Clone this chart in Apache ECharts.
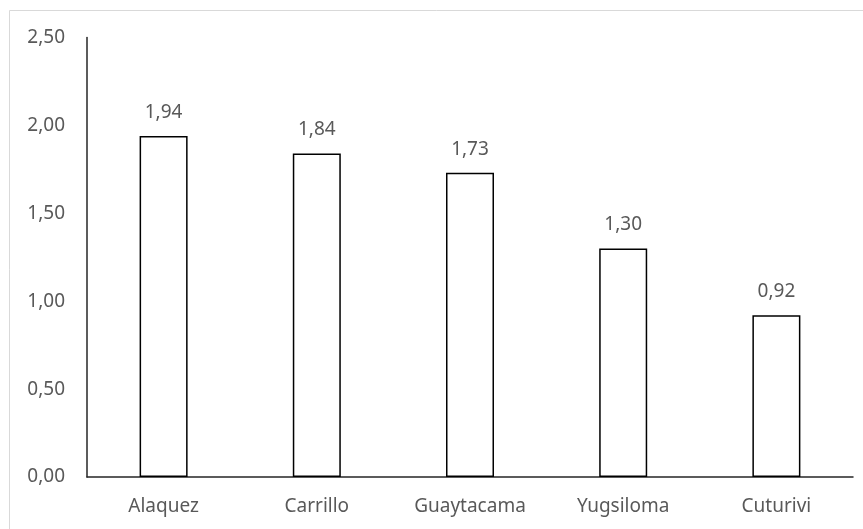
<!DOCTYPE html>
<html>
<head>
<meta charset="utf-8">
<script src="https://cdn.jsdelivr.net/npm/echarts@6/dist/echarts.min.js"></script>
<style>html,body{margin:0;padding:0;background:#fff;}#c{width:863px;height:529px;}</style>
</head>
<body>
<div id="c"></div>
<script>
const categories = ["Alaquez", "Carrillo", "Guaytacama", "Yugsiloma", "Cuturivi"];
const values = [1.94, 1.84, 1.73, 1.30, 0.92];
const yTicks = [0, 0.5, 1.0, 1.5, 2.0, 2.5];

const fmt = v => v.toFixed(2).replace('.', ',');
const chart = echarts.init(document.getElementById('c'), null, {renderer: 'canvas'});
chart.setOption({
  animation: false,
  backgroundColor: '#ffffff',
  textStyle: {fontFamily: 'Noto Sans'},
  graphic: [
    {type: 'line', shape: {x1: 9.5, y1: 10.5, x2: 863, y2: 10.5}, style: {stroke: '#d9d9d9', lineWidth: 1}},
    {type: 'line', shape: {x1: 9.5, y1: 10.5, x2: 9.5, y2: 529}, style: {stroke: '#d9d9d9', lineWidth: 1}}
  ],
  grid: {left: 87, right: 10, top: 37.5, bottom: 52},
  xAxis: {
    type: 'category',
    data: categories,
    axisLine: {lineStyle: {color: '#262626', width: 1.5}},
    axisTick: {show: false},
    axisLabel: {color: '#595959', fontSize: 19, margin: 20, fontFamily: 'Noto Sans'}
  },
  yAxis: {
    type: 'value',
    min: yTicks[0],
    max: yTicks[yTicks.length - 1],
    interval: yTicks[1] - yTicks[0],
    axisLine: {show: true, lineStyle: {color: '#262626', width: 1.5}},
    axisTick: {show: false},
    splitLine: {show: false},
    axisLabel: {color: '#595959', fontSize: 19, margin: 22, formatter: v => fmt(v), fontFamily: 'Noto Sans'}
  },
  series: [{
    type: 'bar',
    data: values,
    barWidth: 48,
    itemStyle: {color: '#ffffff', borderColor: '#000000', borderWidth: 1.5},
    label: {show: true, position: 'top', distance: 14, color: '#595959', fontSize: 19, formatter: p => fmt(p.value), fontFamily: 'Noto Sans'}
  }]
});
</script>
</body>
</html>
